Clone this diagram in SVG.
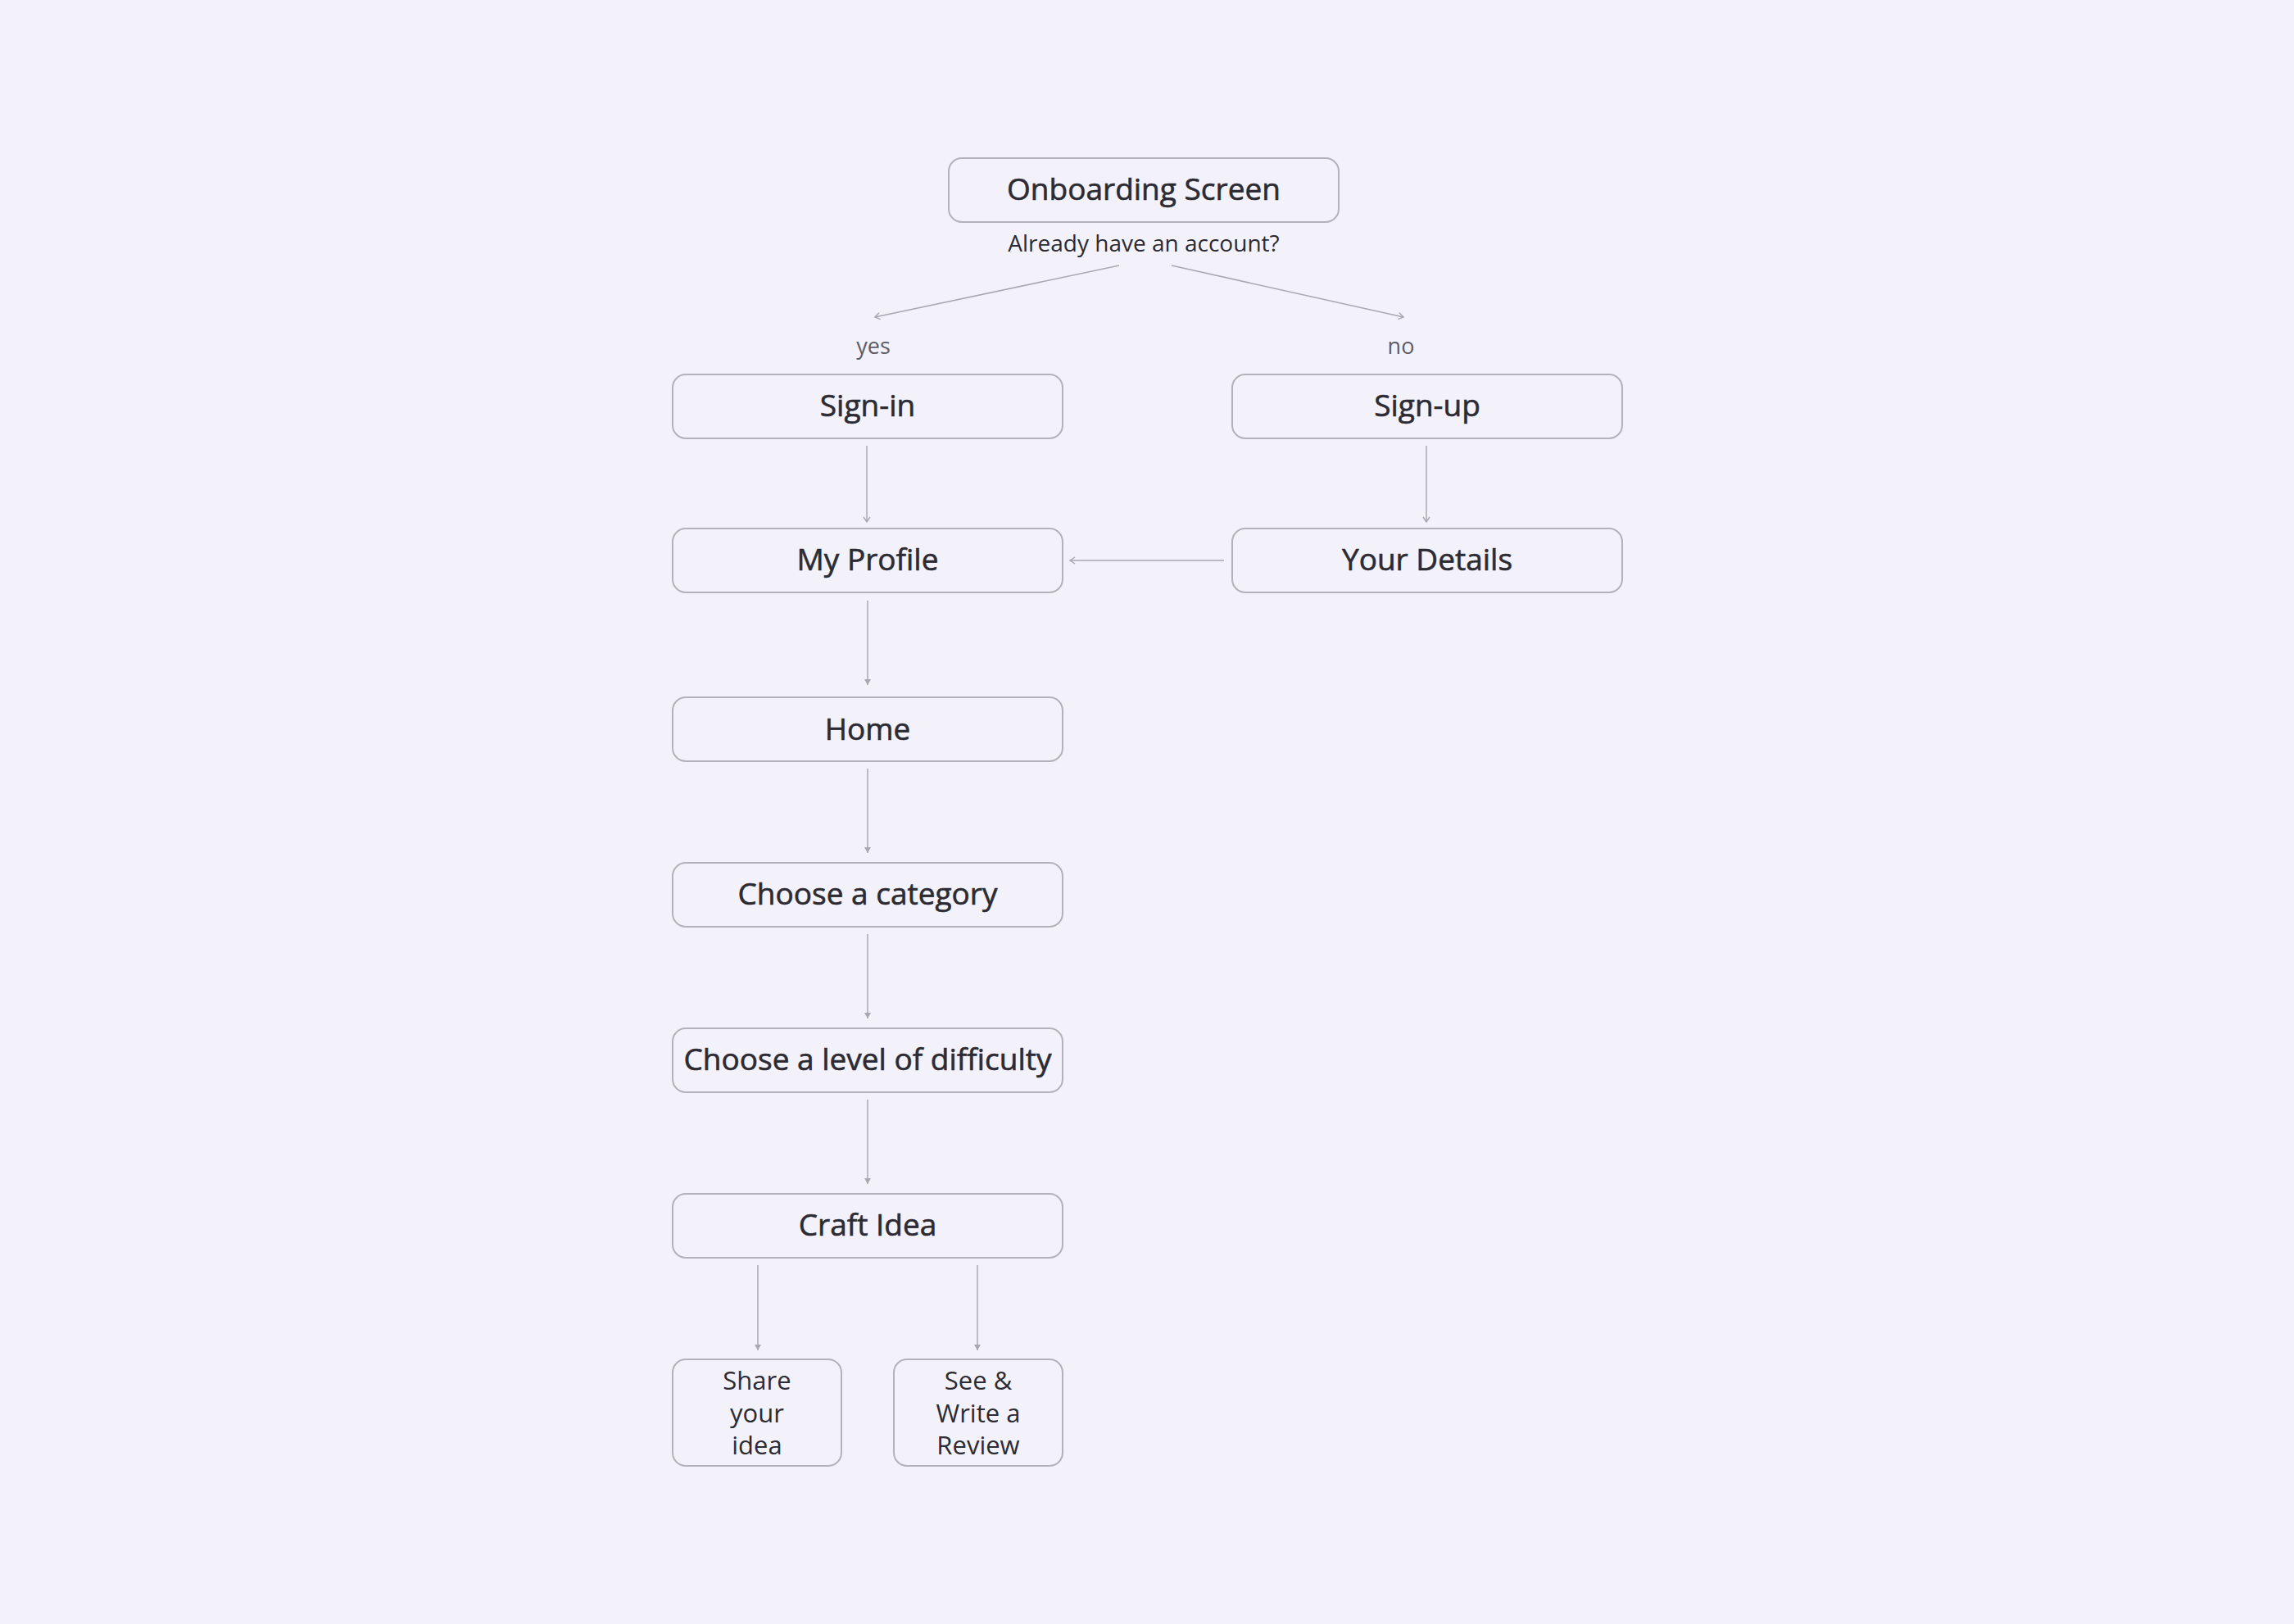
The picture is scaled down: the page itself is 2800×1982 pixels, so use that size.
<svg xmlns="http://www.w3.org/2000/svg" width="2800" height="1982" viewBox="0 0 2800 1982">
<defs>
<style>
.box{fill:#f3f2fb;stroke:#b3b2bb;stroke-width:2}
.t{font-family:"Open Sans","Liberation Sans",sans-serif;font-size:37px;font-weight:400;fill:#2c2b33;stroke:#2c2b33;stroke-width:0.6;text-anchor:middle}
.s{font-family:"Open Sans","Liberation Sans",sans-serif;font-size:31px;font-weight:400;fill:#2c2b33;text-anchor:middle}
.q{font-family:"Open Sans","Liberation Sans",sans-serif;font-size:28px;font-weight:400;fill:#2c2b33;text-anchor:middle}
.lbl{font-family:"Open Sans","Liberation Sans",sans-serif;font-size:27px;font-weight:400;fill:#5e5d68;text-anchor:middle}
.c{fill:none;stroke:#a9a8b2;stroke-width:1.5}
</style>
<marker id="chev" markerUnits="userSpaceOnUse" markerWidth="14" markerHeight="14" refX="8" refY="5" orient="auto">
<path d="M2,1 L8,5 L2,9" fill="none" stroke="#a9a8b2" stroke-width="1.5"/>
</marker>
<marker id="tri" markerUnits="userSpaceOnUse" markerWidth="14" markerHeight="14" refX="8" refY="5" orient="auto">
<path d="M1,1 L8,5 L1,9 Z" fill="#a9a8b2"/>
</marker>
</defs>
<rect x="0" y="0" width="2800" height="1982" fill="#f3f2fb"/>
<g id="connectors">
<line class="c" x1="1366" y1="324" x2="1068" y2="387" marker-end="url(#chev)"/>
<line class="c" x1="1430" y1="324" x2="1713" y2="387" marker-end="url(#chev)"/>
<line class="c" x1="1058" y1="544" x2="1058" y2="637" marker-end="url(#chev)"/>
<line class="c" x1="1741" y1="544" x2="1741" y2="637" marker-end="url(#chev)"/>
<line class="c" x1="1494" y1="684" x2="1306" y2="684" marker-end="url(#chev)"/>
<line class="c" x1="1059" y1="733" x2="1059" y2="836" marker-end="url(#tri)"/>
<line class="c" x1="1059" y1="938" x2="1059" y2="1041" marker-end="url(#tri)"/>
<line class="c" x1="1059" y1="1140" x2="1059" y2="1243" marker-end="url(#tri)"/>
<line class="c" x1="1059" y1="1342" x2="1059" y2="1445" marker-end="url(#tri)"/>
<line class="c" x1="925" y1="1544" x2="925" y2="1648" marker-end="url(#tri)"/>
<line class="c" x1="1193" y1="1544" x2="1193" y2="1648" marker-end="url(#tri)"/>
</g>
<g id="labels">
<text class="q" x="1396" y="307">Already have an account?</text>
<text class="lbl" x="1066" y="432">yes</text>
<text class="lbl" x="1710" y="432">no</text>
</g>
<g id="onboarding"><rect class="box" x="1158" y="193" width="476" height="78" rx="16"/><text class="t" x="1396" y="244">Onboarding Screen</text></g>
<g id="signin"><rect class="box" x="821" y="457" width="476" height="78" rx="16"/><text class="t" x="1059" y="508">Sign-in</text></g>
<g id="signup"><rect class="box" x="1504" y="457" width="476" height="78" rx="16"/><text class="t" x="1742" y="508">Sign-up</text></g>
<g id="myprofile"><rect class="box" x="821" y="645" width="476" height="78" rx="16"/><text class="t" x="1059" y="696">My Profile</text></g>
<g id="yourdetails"><rect class="box" x="1504" y="645" width="476" height="78" rx="16"/><text class="t" x="1742" y="696">Your Details</text></g>
<g id="home"><rect class="box" x="821" y="851" width="476" height="78" rx="16"/><text class="t" x="1059" y="903">Home</text></g>
<g id="category"><rect class="box" x="821" y="1053" width="476" height="78" rx="16"/><text class="t" x="1059" y="1104">Choose a category</text></g>
<g id="difficulty"><rect class="box" x="821" y="1255" width="476" height="78" rx="16"/><text class="t" x="1059" y="1306">Choose a level of difficulty</text></g>
<g id="craftidea"><rect class="box" x="821" y="1457" width="476" height="78" rx="16"/><text class="t" x="1059" y="1508">Craft Idea</text></g>
<g id="share"><rect class="box" x="821" y="1659" width="206" height="130" rx="16"/><text class="s" x="924" y="1696">Share</text><text class="s" x="924" y="1736">your</text><text class="s" x="924" y="1775">idea</text></g>
<g id="review"><rect class="box" x="1091" y="1659" width="206" height="130" rx="16"/><text class="s" x="1194" y="1696">See &amp;</text><text class="s" x="1194" y="1736">Write a</text><text class="s" x="1194" y="1775">Review</text></g>
</svg>
